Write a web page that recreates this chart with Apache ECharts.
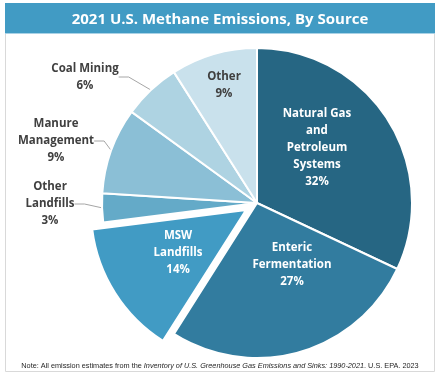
<!DOCTYPE html>
<html><head><meta charset="utf-8">
<script src="https://cdn.jsdelivr.net/npm/echarts@6/dist/echarts.min.js"></script>
<style>html,body{margin:0;padding:0;background:#fff}#c{width:440px;height:382px}</style>
</head><body><div id="c"></div>
<script>
var titleText = '2021 U.S. Methane Emissions, By Source';
var categories = ['Natural Gas\nand\nPetroleum\nSystems', 'Enteric\nFermentation', 'MSW\nLandfills', 'Other\nLandfills', 'Manure\nManagement', 'Coal Mining', 'Other'];
var values = [32, 27, 14, 3, 9, 6, 9];
var colors = ['#266683', '#327c9f', '#419bc4', '#64aac8', '#8bbfd6', '#aed3e2', '#c9e1ec'];
var insideLabel = [true, true, true, false, false, false, true];
var labelPos = [[317,148],[292,265],[145,272],[50,204],[56,141],[85,77],[224,85]];

var chart = echarts.init(document.getElementById('c'));
var font = '"Open Sans", "Liberation Sans", sans-serif';
var noteFont = '"Liberation Sans", sans-serif';
var data = values.map(function(v, i){
  var inside = insideLabel[i];
  return {
    name: categories[i], value: v,
    selected: i === 2,
    itemStyle: {color: colors[i]},
    label: {
      position: inside ? 'inside' : 'outside',
      color: inside && i < 3 ? '#ffffff' : '#404040'
    },
    labelLine: {show: !inside}
  };
});
chart.setOption({
  animation: false,
  graphic: [
    {type:'rect', shape:{x:5.5,y:3.5,width:429,height:368}, style:{fill:'#fff', stroke:'#d9d9d9', lineWidth:1}, z:-1},
    {type:'rect', shape:{x:5,y:3,width:430,height:30}, style:{fill:'#419bc4'}, z:0},
    {type:'rect', shape:{x:5,y:33,width:430,height:1}, style:{fill:'#a9d2e6'}, z:0}
  ],
  title: [{
    text: titleText, left: 'center', top: 7,
    textStyle: {color:'#fff', fontSize: 15, fontWeight: 'bold', fontFamily: font}
  }, {
    text: '{n|Note: All emission estimates from the }{i|Inventory of U.S. Greenhouse Gas Emissions and Sinks: 1990-2021}{n|. U.S. EPA. 2023}',
    left: 'center', top: 357,
    textStyle: {fontWeight: 'normal', rich: {
      n: {fontSize: 7.3, fontFamily: noteFont, fontWeight: 'normal', color: '#262626'},
      i: {fontSize: 7.3, fontFamily: noteFont, fontWeight: 'normal', color: '#262626', fontStyle: 'italic'}
    }}
  }],
  series: [{
    type: 'pie',
    center: [257, 203],
    radius: [0, 155],
    startAngle: 90,
    clockwise: true,
    selectedMode: 'single',
    selectedOffset: 13,
    data: data,
    itemStyle: {borderColor: '#fff', borderWidth: 2},
    label: {
      formatter: '{b}\n{c}%',
      fontSize: 11.5, fontWeight: 'bold', fontFamily: font,
      lineHeight: 17, align: 'center', overflow: 'none'
    },
    labelLine: {lineStyle: {color: '#a6a6a6', width: 1}, length: 10, length2: 10},
    labelLayout: function(p){
      var pos = labelPos[p.dataIndex];
      return {x: pos[0], y: pos[1], align: 'center', verticalAlign: 'middle'};
    },
    emphasis: {disabled: true}
  }]
});
</script></body></html>
